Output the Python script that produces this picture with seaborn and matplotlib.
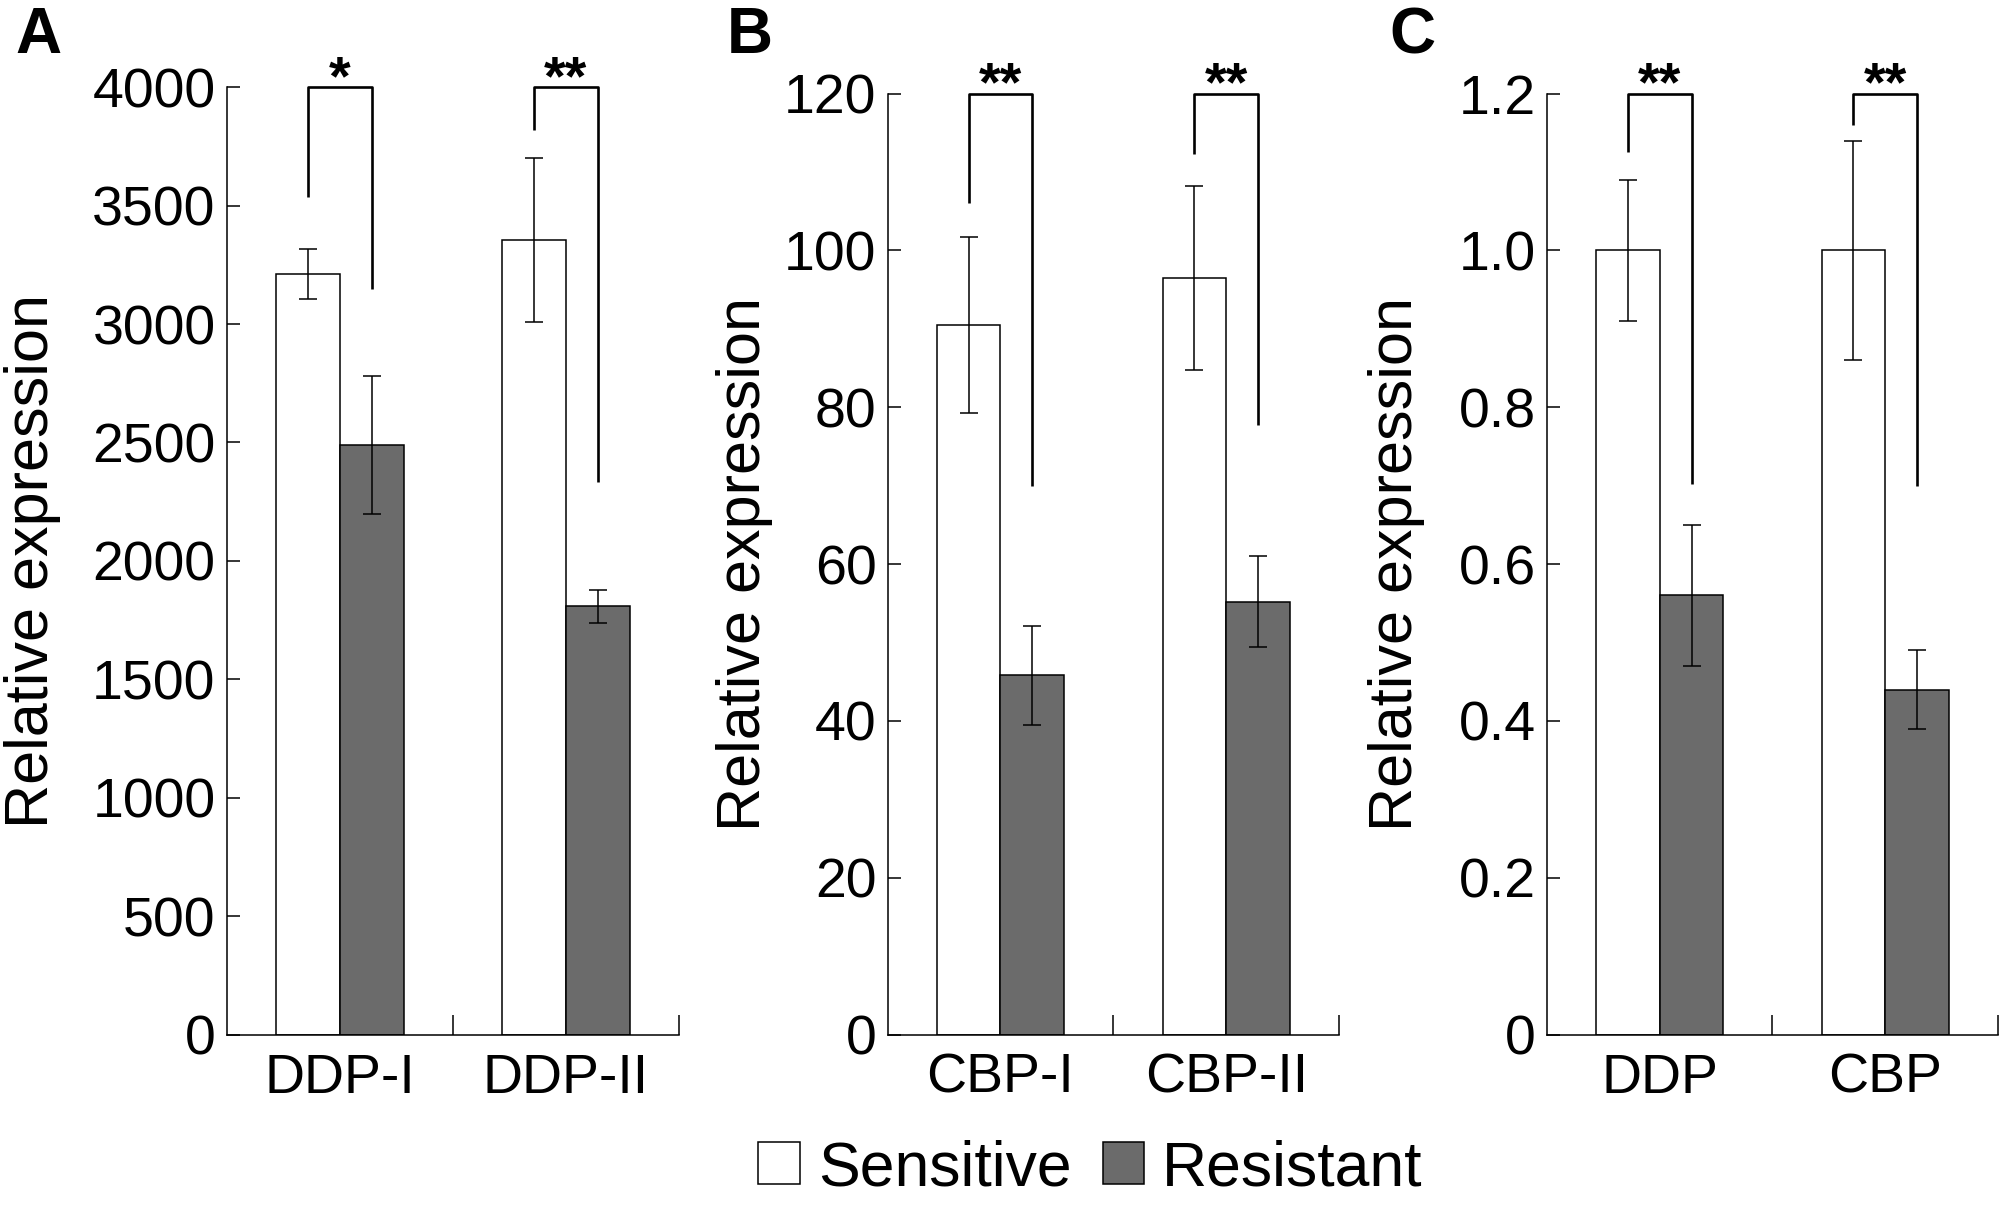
import numpy as np
import pandas as pd
import seaborn as sns
import matplotlib.pyplot as plt
from matplotlib.patches import Patch
from matplotlib.ticker import FixedLocator

groups = ['Sensitive', 'Resistant']
bar_colors = ['white', '#6b6b6b']

# panel A
a_cats = ['DDP-I', 'DDP-II']
a_sens = [3210, 3355]
a_sens_err = [105, 345]
a_res = [2490, 1808]
a_res_err = [292, 68]
a_sig = ['*', '**']
a_brk_left = [3536, 3818]
a_brk_right = [3146, 2335]
a_yticks = [0, 500, 1000, 1500, 2000, 2500, 3000, 3500, 4000]
a_ylabels = ['0', '500', '1000', '1500', '2000', '2500', '3000', '3500', '4000']

# panel B
b_cats = ['CBP-I', 'CBP-II']
b_sens = [90.5, 96.5]
b_sens_err = [11.2, 11.7]
b_res = [45.8, 55.2]
b_res_err = [6.3, 5.8]
b_sig = ['**', '**']
b_brk_left = [106, 112.3]
b_brk_right = [70, 77.7]
b_yticks = [0, 20, 40, 60, 80, 100, 120]
b_ylabels = ['0', '20', '40', '60', '80', '100', '120']

# panel C
c_cats = ['DDP', 'CBP']
c_sens = [1.0, 1.0]
c_sens_err = [0.09, 0.14]
c_res = [0.56, 0.44]
c_res_err = [0.09, 0.05]
c_sig = ['**', '**']
c_brk_left = [1.126, 1.16]
c_brk_right = [0.702, 0.70]
c_yticks = [0, 0.2, 0.4, 0.6, 0.8, 1.0, 1.2]
c_ylabels = ['0', '0.2', '0.4', '0.6', '0.8', '1.0', '1.2']

sns.set_style('ticks')
plt.rcParams['font.family'] = ['Liberation Sans', 'DejaVu Sans']
plt.rcParams['text.color'] = 'black'
plt.rcParams['axes.labelcolor'] = 'black'
plt.rcParams['xtick.color'] = 'black'
plt.rcParams['ytick.color'] = 'black'

LW = 1.1


def panel(ax, cats, sens, sens_err, res, res_err, sig, brk_l, brk_r, yticks, ylabels):
    n = len(cats)
    df = pd.DataFrame({'cat': cats * 2,
                       'group': [groups[0]] * n + [groups[1]] * n,
                       'val': sens + res})
    sns.barplot(data=df, x='cat', y='val', hue='group', hue_order=groups,
                palette=bar_colors, width=0.565, gap=0, saturation=1,
                edgecolor='black', linewidth=LW, errorbar=None, legend=False, ax=ax)
    ymax = yticks[-1]
    centers = []
    for cont, errs in zip(ax.containers, [sens_err, res_err]):
        cx = []
        for bar, e in zip(cont, errs):
            x = bar.get_x() + bar.get_width() / 2
            cx.append(x)
            ax.errorbar(x, bar.get_height(), yerr=e, color='black', lw=LW,
                        capsize=6.5, capthick=LW)
        centers.append(cx)
    for i in range(n):
        xl, xr = centers[0][i], centers[1][i]
        ax.plot([xl, xl, xr, xr], [brk_l[i], ymax, ymax, brk_r[i]],
                color='black', lw=1.9, clip_on=False, solid_capstyle='butt')
        ax.annotate(sig[i], xy=((xl + xr) / 2, ymax), xytext=(0, -5),
                    textcoords='offset points', ha='center', va='baseline',
                    fontsize=40, fontweight='bold', annotation_clip=False)
    ax.set_xlim(-0.5, 1.5)
    ax.set_ylim(0, ymax)
    ax.set_yticks(yticks)
    ax.set_yticklabels(ylabels)
    ax.xaxis.set_minor_locator(FixedLocator([0.5, 1.5]))
    ax.tick_params(axis='x', which='major', length=0, pad=13, labelsize=40)
    ax.tick_params(axis='x', which='minor', direction='in', length=14.5, width=LW)
    ax.tick_params(axis='y', direction='in', length=9.5, width=LW, pad=8, labelsize=40)
    ax.set_xlabel('')
    ax.set_ylabel('Relative expression', fontsize=44)
    for s in ['top', 'right']:
        ax.spines[s].set_visible(False)
    for s in ['left', 'bottom']:
        ax.spines[s].set_linewidth(LW)
        ax.spines[s].set_color('black')


fig = plt.figure(figsize=(20.08, 12.05), dpi=100)
ax_a = fig.add_axes([0.1129, 0.1413, 0.2251, 0.7864])
ax_b = fig.add_axes([0.442, 0.1413, 0.225, 0.7811])
ax_c = fig.add_axes([0.7704, 0.1413, 0.2246, 0.7811])

panel(ax_a, a_cats, a_sens, a_sens_err, a_res, a_res_err, a_sig, a_brk_left, a_brk_right, a_yticks, a_ylabels)
panel(ax_b, b_cats, b_sens, b_sens_err, b_res, b_res_err, b_sig, b_brk_left, b_brk_right, b_yticks, b_ylabels)
panel(ax_c, c_cats, c_sens, c_sens_err, c_res, c_res_err, c_sig, c_brk_left, c_brk_right, c_yticks, c_ylabels)

ax_a.yaxis.set_label_coords(-0.367, 0.5)
ax_b.yaxis.set_label_coords(-0.254, 0.5)
ax_c.yaxis.set_label_coords(-0.27, 0.5)

for x, letter in zip([0.0075, 0.362, 0.692], ['A', 'B', 'C']):
    fig.text(x, 0.995, letter, fontsize=46, fontweight='bold', va='top', ha='left')

handles = [Patch(facecolor=c, edgecolor='black', linewidth=LW) for c in bar_colors]
fig.legend(handles, groups, loc='center', bbox_to_anchor=(0.543, 0.03), ncol=2,
           frameon=False, fontsize=45, handlelength=0.66, handleheight=0.66,
           handletextpad=0.29, columnspacing=0.5, borderaxespad=0)

fig.savefig('out.png', dpi=100, facecolor='white')
